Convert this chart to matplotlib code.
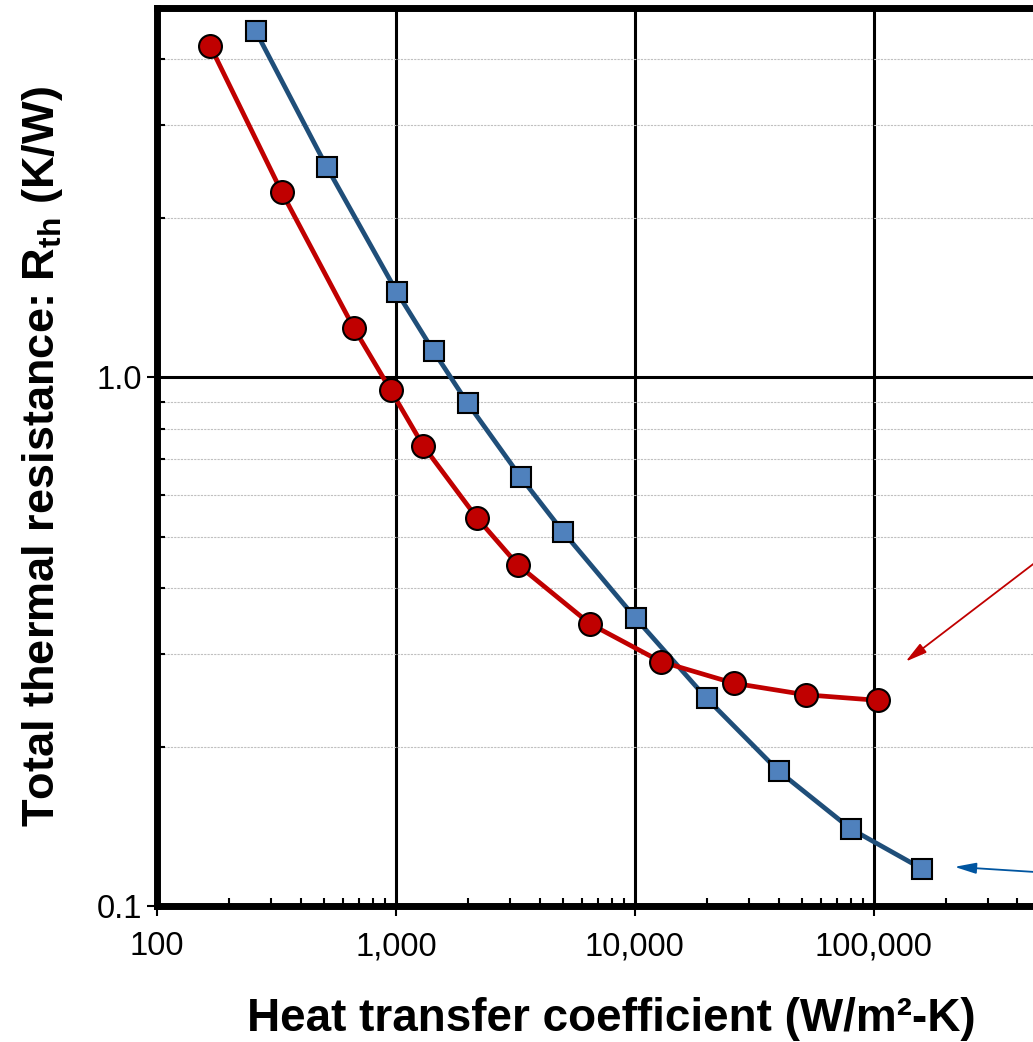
import matplotlib
matplotlib.use("Agg")
import matplotlib.pyplot as plt
from matplotlib.ticker import LogLocator, FuncFormatter, NullFormatter

# ── data (W/m²-K vs K/W) ──
h_red = [167, 333, 667, 953, 1300, 2180, 3240, 6490, 12850, 25950, 51900, 104000]
r_red = [4.24, 2.24, 1.24, 0.945, 0.743, 0.543, 0.442, 0.342, 0.290, 0.264, 0.251, 0.245]

h_blue = [259, 514, 1010, 1440, 2000, 3335, 5000, 10100, 20000, 40000, 80100, 160000]
r_blue = [4.52, 2.50, 1.45, 1.12, 0.893, 0.647, 0.511, 0.350, 0.247, 0.180, 0.140, 0.1175]

RED = "#c00000"
BLUE_LINE = "#1f4e79"
BLUE_FACE = "#4f81bd"
ARROW_BLUE = "#0055a0"

plt.rcParams["font.family"] = ["Liberation Sans", "DejaVu Sans"]
plt.rcParams["mathtext.fontset"] = "custom"
plt.rcParams["mathtext.rm"] = "Liberation Sans:bold"
plt.rcParams["mathtext.it"] = "Liberation Sans:bold"
plt.rcParams["mathtext.bf"] = "Liberation Sans:bold"
plt.rcParams["mathtext.default"] = "bf"

fig = plt.figure(figsize=(10.33, 10.42), dpi=100)
# axes run past the right edge, the reference is cropped there
ax = fig.add_axes([0.152, 0.1305, 0.925, 0.8618])
ax.set_xscale("log")
ax.set_yscale("log")
ax.set_xlim(100, 1e6)
ax.set_ylim(0.1, 5.0)

ax.yaxis.grid(True, which="minor", color="#c0c0c0", linestyle=(0, (2, 1)), linewidth=0.8)
ax.grid(True, which="major", color="black", linewidth=2.2)
ax.set_axisbelow(True)

ax.plot(h_blue, r_blue, color=BLUE_LINE, linewidth=3.4, marker="s", markersize=14,
        markerfacecolor=BLUE_FACE, markeredgecolor="black", markeredgewidth=1.5, zorder=3)
ax.plot(h_red, r_red, color=RED, linewidth=3.4, marker="o", markersize=16.5,
        markerfacecolor=RED, markeredgecolor="black", markeredgewidth=1.5, zorder=4)

# callout arrows whose labels sit outside the cropped frame
ax.annotate("", xy=(136000, 0.290), xytext=(1.05, 0.489), textcoords="axes fraction",
            arrowprops=dict(arrowstyle="-|>,head_length=1.3,head_width=0.33",
                            color=RED, linewidth=1.3, shrinkA=0, shrinkB=0))
ax.annotate("", xy=(218000, 0.1186), xytext=(1.05, 0.029), textcoords="axes fraction",
            arrowprops=dict(arrowstyle="-|>,head_length=1.3,head_width=0.33",
                            color=ARROW_BLUE, linewidth=1.3, shrinkA=0, shrinkB=0))

ax.xaxis.set_major_locator(LogLocator(base=10))
ax.xaxis.set_minor_locator(LogLocator(base=10, subs=range(2, 10)))
ax.xaxis.set_major_formatter(FuncFormatter(lambda v, p: f"{v:,.0f}" if v < 5e5 else ""))
ax.xaxis.set_minor_formatter(NullFormatter())
ax.yaxis.set_major_locator(LogLocator(base=10))
ax.yaxis.set_minor_locator(LogLocator(base=10, subs=range(2, 10)))
ax.yaxis.set_major_formatter(FuncFormatter(lambda v, p: f"{v:.1f}"))
ax.yaxis.set_minor_formatter(NullFormatter())

ax.tick_params(which="major", direction="out", length=7, width=1.5, labelsize=23.5)
ax.tick_params(axis="x", which="major", pad=11)
ax.tick_params(which="minor", direction="in", length=6, width=1.5)

for s in ("left", "bottom", "top"):
    ax.spines[s].set_linewidth(5)
ax.spines["right"].set_visible(False)

ax.set_xlabel("Heat transfer coefficient (W/m²-K)", fontsize=33, fontweight="bold",
              va="center")
ax.xaxis.set_label_coords(0.475, -0.126)
ax.set_ylabel(r"Total thermal resistance: R$_{th}$ (K/W)", fontsize=32.5,
              fontweight="bold", va="center")
ax.yaxis.set_label_coords(-0.120, 0.5)

fig.savefig("out.png", dpi=100)
